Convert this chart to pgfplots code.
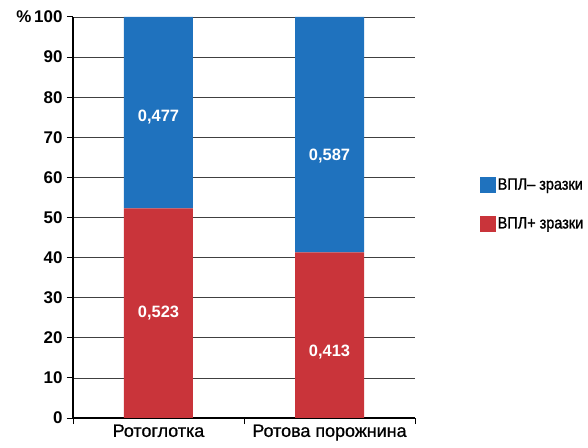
\documentclass[border=0pt]{standalone}
\usepackage{pgfplots}
\pgfplotsset{compat=1.18}
\usepackage{fontspec}
\setmainfont{Liberation Sans}
\newfontfamily\narrowfont{Liberation Sans}[FakeStretch=0.88,FakeBold=1.2]
\newfontfamily\heavyfont{Liberation Sans}[FakeBold=0.8]
\definecolor{bblue}{RGB}{31,114,190}
\definecolor{bred}{RGB}{201,52,58}
\begin{document}
\begin{tikzpicture}
\begin{axis}[
  name=ax,
  at={(0,0)}, anchor=south west,
  scale only axis,
  width=342bp, height=401bp,
  xmin=-0.5, xmax=1.5, ymin=0, ymax=100,
  ybar stacked, bar width=69bp,
  axis x line=bottom, axis y line=left,
  axis line style={-, black, line width=1.1pt},
  ymajorgrids, grid style={black!75, line width=0.7pt},
  ytick={0,10,...,100},
  yticklabels={0,10,20,30,40,50,60,70,80,90,{\%\,100}},
  ytick style={black, line width=1pt},
  tick align=outside, major tick length=6bp,
  xtick={0,1},
  xticklabels={Ротоглотка, Ротова порожнина},
  xtick style={draw=none},
  extra x ticks={-0.5,0.5,1.5},
  extra x tick labels={},
  extra x tick style={grid=none, xtick style={draw=black, line width=1pt}},
  /pgf/number format/assume math mode=true,
  yticklabel style={font=\fontsize{17}{17}\selectfont\bfseries, xshift=-1bp},
  xticklabel style={font=\heavyfont\fontsize{18}{18}\selectfont, yshift=3bp},
  legend style={at={(1.19,0.608)}, anchor=north west, draw=none, fill=none,
    font=\narrowfont\fontsize{16.5}{17}\selectfont, row sep=22bp,
    legend cell align=left, inner xsep=0pt,
    nodes={inner xsep=1.5bp}},
  legend image code/.code={\fill[#1] (0bp,-8bp) rectangle (16bp,8bp);},
  reverse legend,
]
\addplot[fill=bred, draw=none] coordinates {(0,52.3) (1,41.3)};
\addlegendentry{ВПЛ+ зразки}
\addplot[fill=bblue, draw=none] coordinates {(0,47.7) (1,58.7)};
\addlegendentry{ВПЛ– зразки}
\coordinate (l1) at (axis cs:0,75.1);
\coordinate (l2) at (axis cs:0,26.2);
\coordinate (l3) at (axis cs:1,65.4);
\coordinate (l4) at (axis cs:1,16.5);
\end{axis}
\begin{scope}[every node/.style={white, font=\fontsize{16.5}{16.5}\selectfont\bfseries}]
\node at (l1) {0,477};
\node at (l2) {0,523};
\node at (l3) {0,587};
\node at (l4) {0,413};
\end{scope}
\pgfresetboundingbox
\path ([shift={(-73bp,-30bp)}]ax.south west) rectangle ([shift={(173bp,17bp)}]ax.north east);
\end{tikzpicture}
\end{document}
